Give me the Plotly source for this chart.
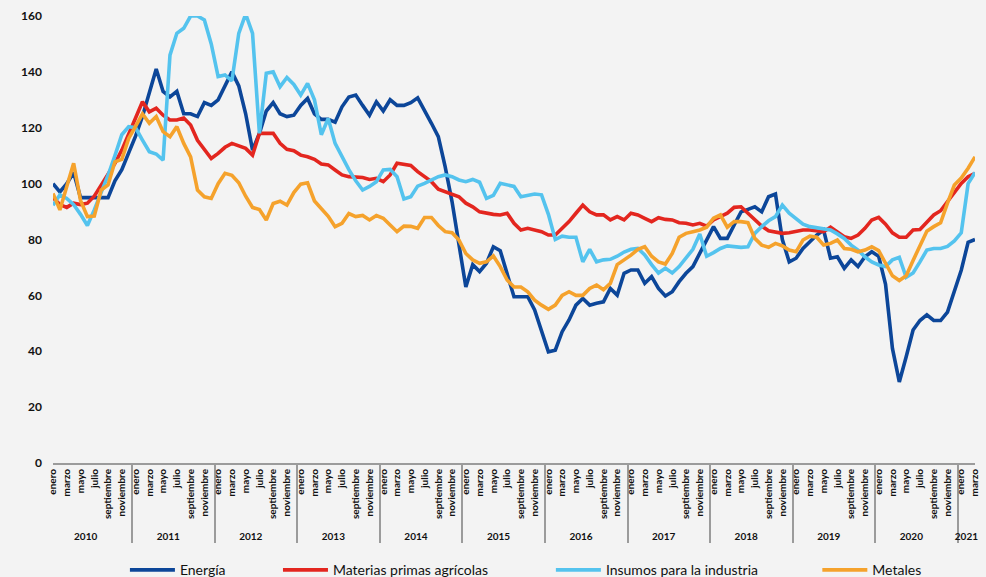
import plotly.graph_objects as go

# ── Axis labels ────────────────────────────────────────────────────
# only every other month is labelled; blank ones need distinct names
MONTH_LABELS = ["enero", " ", "marzo", "  ", "mayo", "   ", "julio", "    ",
                "septiembre", "     ", "noviembre", "      "]
YEARS = ["2010", "2011", "2012", "2013", "2014", "2015",
         "2016", "2017", "2018", "2019", "2020", "2021"]

# ── Monthly index values, Jan 2010 - Mar 2021 ──────────────────────
ENERGIA = [
    100, 97, 100, 104, 95, 95, 95, 95, 95, 101, 105, 111,
    117, 124, 132, 141, 133, 131, 133, 125, 125, 124, 129, 128,
    130, 135, 140, 135, 125, 112, 118, 126, 129, 125, 124, 124.5,
    128, 130.5, 125, 123, 123, 122, 127.5, 131, 131.7, 128, 124.5, 129.3,
    126, 130, 128, 128, 129, 130.7, 126.3, 121.6, 116.8, 106, 93.5, 78,
    63, 71, 68.5, 71.5, 77.4, 76, 67.9, 59.5, 59.5, 59.5, 54.8, 47.6,
    39.8, 40.4, 47, 51.2, 56.5, 58.9, 56.5, 57.2, 57.7, 62.5, 60.1, 67.9,
    69.1, 69.1, 64.3, 66.7, 62.5, 59.8, 61.3, 64.9, 67.9, 70.3, 75, 79.8,
    84.6, 80.4, 80.4, 85.2, 89.9, 90.8, 91.7, 89.9, 95.3, 96.3, 80, 72,
    73.3, 76.8, 79.2, 81.6, 83.4, 73.3, 73.8, 69.7, 72.7, 70.3, 73.8, 75.6,
    74, 64, 41, 29, 38, 47.6, 51, 53, 51, 51, 54, 62,
    69, 79, 80,
]
MATERIAS_PRIMAS = [
    95, 92.5, 91.5, 93, 92.5, 93, 95.5, 99.5, 103, 107.3, 112, 117.5,
    123.5, 129.3, 125.7, 127, 124.5, 122.8, 122.8, 123.5, 121, 115.5, 112, 109,
    110.8, 113, 114.4, 113.5, 112.6, 110.2, 118, 118, 118, 114.4, 112.3, 111.8,
    110.2, 109.6, 108.7, 107, 106.7, 104.9, 103.1, 102.5, 102.2, 102.2, 101.5, 101.9,
    100.7, 103.1, 107.3, 107, 106.5, 104.3, 102.5, 100.7, 98, 97, 96.2, 95.3,
    93, 91.7, 89.9, 89.4, 89, 88.8, 89.4, 85.8, 83.4, 84, 83.4, 82.8,
    81.6, 81.6, 84, 86.4, 89.4, 92.3, 89.9, 88.8, 88.8, 87, 88.2, 87,
    89.4, 88.8, 87.6, 86.4, 87.8, 87.2, 87, 86, 85.8, 85.2, 85.8, 84.8,
    87, 88.2, 89.4, 91.5, 91.7, 89.4, 87, 84.8, 83.1, 82.8, 82.2, 82.4,
    82.8, 83.4, 83.4, 83.1, 82.8, 84.4, 82.8, 81, 80.4, 81.6, 84, 87,
    87.9, 85.5, 82.4, 80.8, 80.8, 83.4, 83.6, 86.4, 88.8, 90.3, 93.5, 96.5,
    100.1, 102.5, 103.7,
]
INSUMOS = [
    92.3, 96, 94.7, 92.5, 89, 85, 90.6, 96.5, 103, 110, 117.5, 120.4,
    120, 115.6, 111.4, 110.6, 108.4, 146, 153.8, 155.6, 160, 160, 158.6, 150,
    138.3, 138.9, 136.8, 153.8, 160.7, 153.8, 118, 139.5, 140, 134.7, 138, 135.5,
    131.7, 135.9, 130, 117.5, 123.3, 114.4, 109.5, 105, 101, 97.7, 99, 100.7,
    104.9, 105.1, 102.5, 94.5, 95.3, 99.1, 100.1, 101.2, 102.5, 103.1, 102.5, 101.3,
    100.7, 101.5, 100.5, 94.7, 95.8, 100.1, 99.5, 99, 95.3, 95.9, 96.3, 96,
    89, 80, 81.2, 80.8, 80.8, 72, 76.5, 72, 72.7, 72.9, 74, 75.5,
    76.5, 76.8, 74.5, 71, 68, 69.7, 68, 70.3, 73.3, 76.5, 82, 74,
    75.3, 76.8, 77.7, 77.4, 77.2, 77.4, 82.2, 84.6, 86.7, 88.2, 92.3, 89.4,
    87.6, 85.5, 84.6, 84.2, 84, 83.4, 82, 80.4, 78, 76.2, 73.8, 72,
    70.9, 70.3, 72.7, 73.6, 66.5, 68, 72, 76.2, 76.8, 76.8, 77.5, 79.5,
    82.4, 100, 104,
]
METALES = [
    96.5, 90.6, 99, 107.3, 94, 88.2, 88.4, 97.7, 99.5, 107.8, 108.7, 116.2,
    120.5, 125, 121.6, 124, 118.6, 116.8, 120.4, 114.4, 109.6, 97.7, 95.3, 94.7,
    100, 103.7, 103, 100.3, 95.5, 91.5, 90.7, 87, 92.9, 93.7, 92.3, 96.8,
    99.8, 100.3, 93.8, 91, 88.3, 84.6, 85.8, 89.3, 88.2, 88.6, 87, 88.6,
    87.6, 85.2, 82.8, 84.8, 84.7, 84, 87.9, 87.9, 85, 82.8, 82.4, 79.8,
    75, 72.7, 71.5, 72, 74.1, 70.3, 65.5, 63, 63, 61.3, 58.3, 56.5,
    55, 56.5, 60, 61.3, 60, 60, 62.5, 63.7, 62, 64.3, 71, 72.7,
    74.4, 76.5, 77.4, 74, 72, 71.2, 75, 80.8, 82.2, 82.8, 83.4, 84.4,
    87.6, 88.8, 84.4, 86.4, 86.4, 86, 80.4, 78, 77.2, 78.6, 77.7, 76.2,
    75.6, 79.8, 81.2, 80.8, 78, 78.6, 79.8, 76.8, 76.5, 75.6, 76.2, 77.4,
    76, 71.5, 67, 65.3, 67, 72.5, 77.5, 83, 84.6, 86, 93, 99.5,
    102, 105.5, 109.6,
]

SERIES = [
    ("Energía", ENERGIA, "#0c4699", "legend", 0.078),
    ("Materias primas agrícolas", MATERIAS_PRIMAS, "#e3261f", "legend2", 0.244),
    ("Insumos para la industria", INSUMOS, "#54c3ee", "legend3", 0.540),
    ("Metales", METALES, "#f5a22c", "legend4", 0.829),
]

_FONT = "Lato, 'Open Sans', sans-serif"
_BG = "#f3f3f3"

n = len(ENERGIA)
x_cats = [[YEARS[i // 12] for i in range(n)],
          [MONTH_LABELS[i % 12] for i in range(n)]]

fig = go.Figure()
for name, values, color, legend_id, _ in SERIES:
    fig.add_trace(
        go.Scatter(
            x=x_cats,
            y=values,
            mode="lines",
            name=name,
            legend=legend_id,
            line={"color": color, "width": 3.6},
        )
    )

legend_common = {
    "orientation": "h",
    "xanchor": "left",
    "yanchor": "middle",
    "y": -0.24,
    "bgcolor": "rgba(0,0,0,0)",
    "font": {"family": _FONT, "size": 14, "color": "#111111"},
    "itemwidth": 45,
}
legends = {}
for _, _, _, legend_id, lx in SERIES:
    legends[legend_id] = dict(legend_common, x=lx)

fig.update_layout(
    width=986,
    height=577,
    paper_bgcolor=_BG,
    plot_bgcolor="rgba(0,0,0,0)",
    margin={"l": 53, "r": 11, "t": 16, "b": 114, "autoexpand": False},
    showlegend=True,
    **legends,
    xaxis={
        "type": "multicategory",
        "showline": True,
        "linecolor": "#9b9b9b",
        "linewidth": 2,
        "showgrid": False,
        "ticks": "",
        "tickangle": -90,
        "tickfont": {"family": _FONT, "size": 10, "color": "#111111", "weight": "bold"},
        "showdividers": True,
        "dividercolor": "#9b9b9b",
        "dividerwidth": 2,
    },
    yaxis={
        "range": [0, 160],
        "dtick": 20,
        "showgrid": False,
        "zeroline": False,
        "showline": False,
        "ticks": "",
        "ticklabelstandoff": 10,
        "tickfont": {"family": _FONT, "size": 12, "color": "#111111", "weight": "bold"},
    },
)

# drop the default page margin so the figure sits at the window's corner
fig.write_html(
    "out.html",
    config={"displayModeBar": False},
    post_script=f"document.body.style.margin='0';document.body.style.background='{_BG}';",
)
